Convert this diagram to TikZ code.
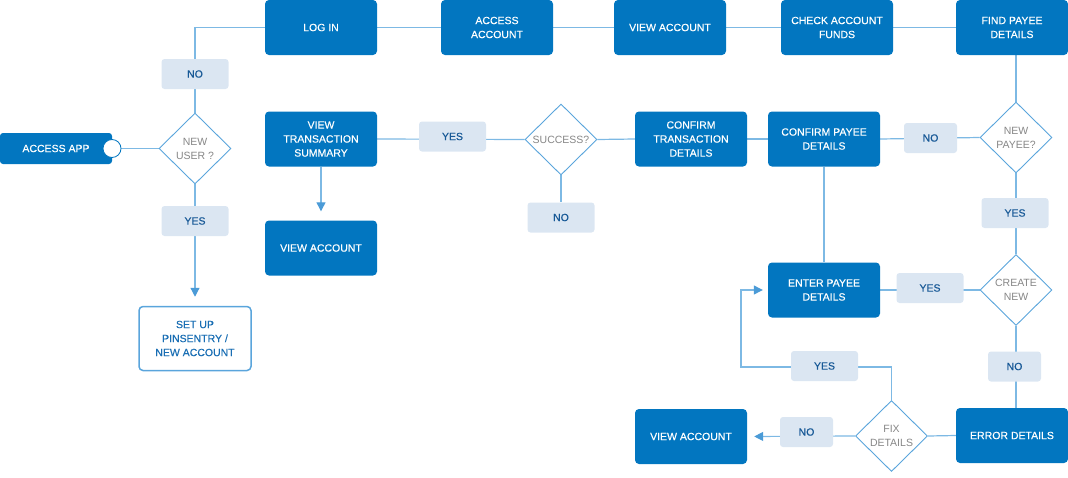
\documentclass[tikz,border=0pt]{standalone}
\usepackage{fontspec}
\setmainfont{Liberation Sans}
\newfontfamily\medfont{Liberation Sans}[FakeBold=0.35]
\usetikzlibrary{shapes.geometric,arrows.meta,backgrounds}
\definecolor{boxblue}{RGB}{2,118,192}
\definecolor{lblfill}{RGB}{219,230,242}
\definecolor{lbltext}{RGB}{22,88,150}
\definecolor{linecol}{RGB}{125,185,228}
\definecolor{arrcol}{RGB}{75,155,215}
\definecolor{decborder}{RGB}{90,165,220}
\definecolor{dectext}{RGB}{135,135,135}
\definecolor{setuptext}{RGB}{25,110,180}
\begin{document}
\begin{tikzpicture}[x=1pt,y=-1pt,
  txt/.style={font=\medfont\fontsize{10.5}{14}\selectfont},
  box/.style={txt,fill=boxblue,text=white,rounded corners=4pt,minimum width=112pt,minimum height=55pt,align=center,inner sep=0pt},
  lbl/.style={txt,fill=lblfill,text=lbltext,rounded corners=3pt,minimum width=67pt,minimum height=30pt,inner sep=0pt},
  lbln/.style={lbl,minimum width=53pt},
  dec/.style={shape=diamond,draw=decborder,line width=0.9pt,fill=white,text=dectext,minimum width=72pt,minimum height=71pt,inner sep=0pt,align=center,font=\fontsize{10.5}{14}\selectfont},
  conn/.style={draw=linecol,line width=1.2pt},
  arr/.style={conn,-{Triangle[length=9pt,width=9pt,color=arrcol]}}
]
\useasboundingbox (0,0) rectangle (1068,477);

% top row
\node[box] (login) at (321,27.5) {LOG IN};
\node[box] (accacct) at (497,27.5) {ACCESS\\ACCOUNT};
\node[box] (viewacct) at (670,27.5) {VIEW ACCOUNT};
\node[box] (check) at (837,27.5) {CHECK ACCOUNT\\FUNDS};
\node[box] (find) at (1012,27.5) {FIND PAYEE\\DETAILS};

% left part
\node[box,minimum height=31pt,rounded corners=3pt] (accapp) at (56,148.5) {ACCESS APP};
\node[circle,draw=boxblue,line width=0.8pt,fill=white,minimum size=18pt,inner sep=0pt] (accc) at (112,148.5) {};
\node[dec] (nu) at (195,148.5) {NEW\\USER ?};
\node[lbl] (no1) at (195,74) {NO};
\node[lbl] (yes1) at (195,221) {YES};
\node[txt,draw=decborder,line width=1.5pt,fill=white,text=setuptext,rounded corners=4pt,minimum width=112pt,minimum height=64pt,align=center,inner sep=0pt] (setup) at (195,338.5) {SET UP\\PINSENTRY /\\NEW ACCOUNT};

% middle row
\node[box] (vts) at (321,139) {VIEW\\TRANSACTION\\SUMMARY};
\node[box] (va1) at (321,248) {VIEW ACCOUNT};
\node[lbl] (yes2) at (452.5,136.5) {YES};
\node[dec] (succ) at (561,139.5) {SUCCESS?};
\node[lbl] (no3) at (561,217.5) {NO};
\node[box] (ctd) at (691,139) {CONFIRM\\TRANSACTION\\DETAILS};
\node[box] (cpd) at (824,139) {CONFIRM PAYEE\\DETAILS};
\node[lbln] (no2) at (930.5,138) {NO};
\node[dec] (np) at (1016,137.5) {NEW\\PAYEE?};
\node[lbl] (yes3) at (1015,213) {YES};
\node[dec] (cn) at (1016,290) {CREATE\\NEW};
\node[box] (epd) at (824,290) {ENTER PAYEE\\DETAILS};
\node[lbl] (yes4) at (930,288) {YES};
\node[lbln] (no4) at (1014.5,366.5) {NO};
\node[box] (ed) at (1012,435.5) {ERROR DETAILS};
\node[dec] (fix) at (891.5,436) {FIX\\DETAILS};
\node[lbln] (no5) at (806.5,432) {NO};
\node[box] (va3) at (691,436.5) {VIEW ACCOUNT};
\node[lbl] (yes5) at (824.5,366) {YES};
\coordinate (lp) at (741,367);

\begin{scope}[on background layer]
  \draw[conn] (accc.east) -- (nu.west);
  \draw[conn] (nu.north) -- (no1.south);
  \draw[conn] (no1.north) |- (login.west);
  \draw[conn] (nu.south) -- (yes1.north);
  \draw[arr,shorten >=9pt] (yes1.south) -- (setup.north);
  \draw[conn] (login.east) -- (accacct.west);
  \draw[conn] (accacct.east) -- (viewacct.west);
  \draw[conn] (viewacct.east) -- (check.west);
  \draw[conn] (check.east) -- (find.west);
  \draw[conn] (np.north) -- (np.north |- find.south);
  \draw[conn] (np.west) -- (cpd.east);
  \draw[conn] (cpd.west) -- (ctd.east);
  \draw[conn] (ctd.west) -- (succ.east);
  \draw[conn] (succ.west) -- (vts.east);
  \draw[conn] (succ.south) -- (no3.north);
  \draw[arr,shorten >=9pt] (vts.south) -- (va1.north);
  \draw[conn] (cpd.south) -- (epd.north);
  \draw[conn] (np.south) -- (cn.north);
  \draw[conn] (cn.west) -- (epd.east);
  \draw[conn] (cn.south) -- (cn.south |- ed.north);
  \draw[conn] (ed.west) -- (fix.east);
  \draw[arr,shorten >=7pt] (fix.west) -- (va3.east);
  \draw[arr,shorten >=5pt] (fix.north) |- (lp) |- (epd.west);
\end{scope}
\end{tikzpicture}
\end{document}
